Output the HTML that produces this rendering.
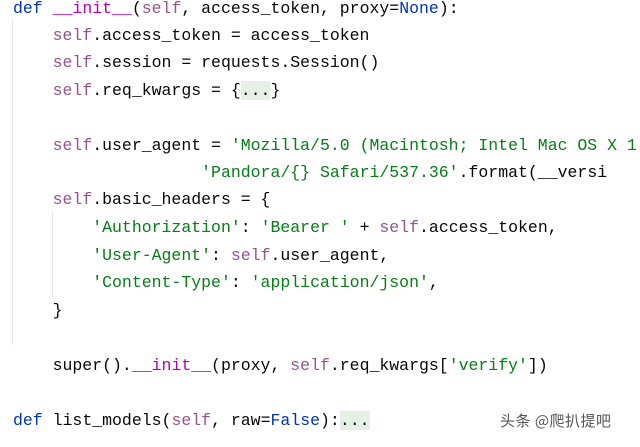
<!DOCTYPE html>
<html><head><meta charset="utf-8"><style>
html,body{margin:0;padding:0;background:#fff;width:640px;height:447px;overflow:hidden;position:relative}
.l{position:absolute;left:13px;white-space:pre;font-family:"Liberation Mono",monospace;font-size:16.5px;color:#080808;line-height:20px;height:20px}
.k{color:#0033b3}.s{color:#94558d}.g{color:#067d17}.m{color:#b200b2}
.f{background:#e6f1e6}
.guide{position:absolute;width:1px;background:#e4e4e4}
.wm{position:absolute;left:500px;top:410px;font-family:"Noto Sans CJK SC",sans-serif;font-size:15px;color:#555;letter-spacing:0.5px}
</style></head><body>
<div class="guide" style="left:12px;top:20px;height:325px"></div>
<div class="guide" style="left:52px;top:212px;height:85px"></div>
<div class="l" style="top:-1px"><span class="k">def</span> <span class="m">__init__</span>(<span class="s">self</span>, access_token, proxy=<span class="k">None</span>):</div>
<div class="l" style="top:26px">    <span class="s">self</span>.access_token = access_token</div>
<div class="l" style="top:53px">    <span class="s">self</span>.session = requests.Session()</div>
<div class="l" style="top:81px">    <span class="s">self</span>.req_kwargs = {<span class="f">...</span>}</div>
<div class="l" style="top:136px">    <span class="s">self</span>.user_agent = <span class="g">'Mozilla/5.0 (Macintosh; Intel Mac OS X 1</span></div>
<div class="l" style="top:163px">                   <span class="g">'Pandora/{} Safari/537.36'</span>.format(__versi</div>
<div class="l" style="top:190px">    <span class="s">self</span>.basic_headers = {</div>
<div class="l" style="top:218px">        <span class="g">'Authorization'</span>: <span class="g">'Bearer '</span> + <span class="s">self</span>.access_token,</div>
<div class="l" style="top:246px">        <span class="g">'User-Agent'</span>: <span class="s">self</span>.user_agent,</div>
<div class="l" style="top:273px">        <span class="g">'Content-Type'</span>: <span class="g">'application/json'</span>,</div>
<div class="l" style="top:301px">    }</div>
<div class="l" style="top:356px">    super().<span class="m">__init__</span>(proxy, <span class="s">self</span>.req_kwargs[<span class="g">'verify'</span>])</div>
<div class="l" style="top:411px"><span class="k">def</span> list_models(<span class="s">self</span>, raw=<span class="k">False</span>):<span class="f">...</span></div>
<div class="wm">头条 @爬扒提吧</div>
</body></html>
